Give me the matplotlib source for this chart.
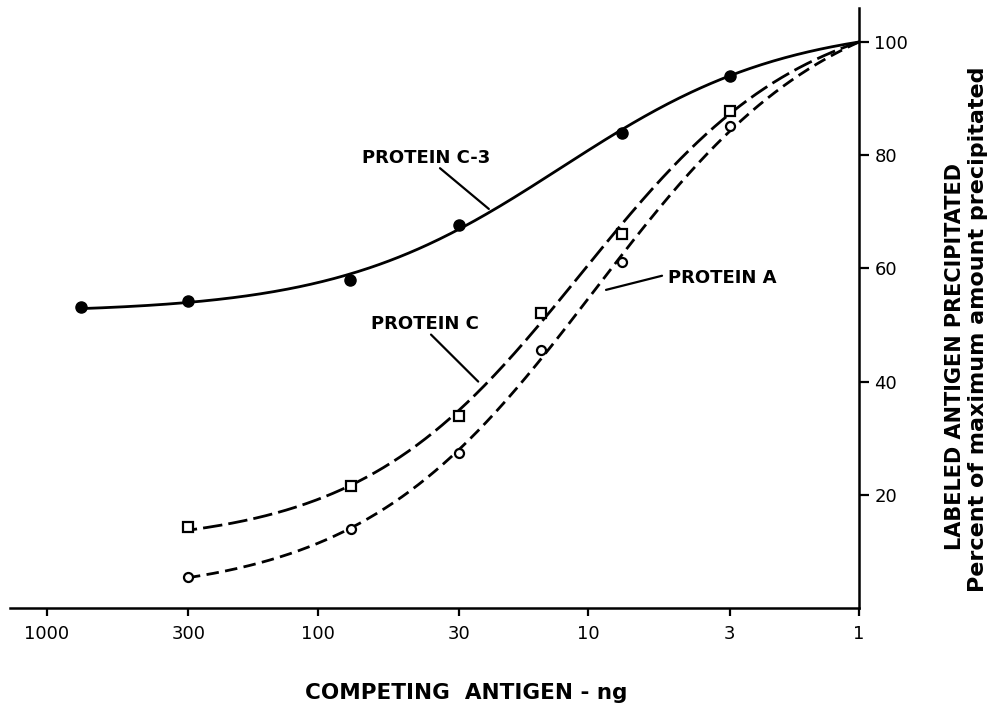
import numpy as np
import matplotlib
matplotlib.use('Agg')
import matplotlib.pyplot as plt

# ── Data ─────────────────────────────────────────────────────────────────────
# competing antigen (ng) and percent of max labeled antigen precipitated
c3_ng  = [750, 300, 76, 30, 7.5, 3]
c3_pct = [53.1, 54.3, 58.0, 67.7, 84.0, 94.0]

protc_ng  = [300, 75, 30, 15, 7.5, 3]
protc_pct = [14.3, 21.5, 33.9, 52.2, 66.1, 87.8]

prota_ng  = [300, 75, 30, 15, 7.5, 3]
prota_pct = [5.4, 14.0, 27.4, 45.5, 61.2, 85.1]

# all three curves are drawn to meet at 100% at 1 ng
end_ng, end_pct = 1, 100

x_ticks = [1000, 300, 100, 30, 10, 3, 1]
x_tick_labels = ['1000', '300', '100', '30', '10', '3', '1']
y_ticks = [20, 40, 60, 80, 100]


def smooth_curve(xs, ys, n=400):
    """Best-fit logistic in log10(x) (grid over centre/slope, linear LSQ for
    the plateaus) -- gives the smooth hand-drawn look of the original."""
    lx = np.log10(np.asarray(xs, float))
    y = np.asarray(ys, float)
    w = np.ones_like(y)
    w[-1] = 30          # force the curve through the 1 ng / 100 % point
    best = None
    for c in np.linspace(-1.0, 3.0, 161):
        for s in np.linspace(0.5, 8.0, 151):
            g = 1.0 / (1.0 + np.exp(s * (lx - c)))
            X = np.column_stack([np.ones_like(g), g])
            coef, *_ = np.linalg.lstsq(X * w[:, None], y * w, rcond=None)
            err = np.sum((w * (X @ coef - y)) ** 2)
            if best is None or err < best[0]:
                best = (err, c, s, coef)
    _, c, s, coef = best
    t = np.linspace(lx.min(), lx.max(), n)
    g = 1.0 / (1.0 + np.exp(s * (t - c)))
    return 10 ** t, coef[0] + coef[1] * g


plt.rcParams['font.family'] = ['DejaVu Sans']

fig = plt.figure(figsize=(9.89, 7.06), dpi=100)
ax = fig.add_axes([10 / 989, 98 / 706, 849 / 989, 600 / 706])

lw = 2.0
# Protein C-3 (solid, filled circles)
cx, cy = smooth_curve(c3_ng + [end_ng], c3_pct + [end_pct])
ax.plot(cx, cy, color='black', lw=lw, solid_capstyle='round')
ax.plot(c3_ng, c3_pct, 'o', color='black', ms=8)

# Protein C (long dashes, open squares)
cx, cy = smooth_curve(protc_ng + [end_ng], protc_pct + [end_pct])
ax.plot(cx, cy, color='black', lw=lw, dashes=(7, 2.2))
ax.plot(protc_ng, protc_pct, 's', mfc='white', mec='black', mew=1.6, ms=6.5)

# Protein A (shorter dashes, open circles)
cx, cy = smooth_curve(prota_ng + [end_ng], prota_pct + [end_pct])
ax.plot(cx, cy, color='black', lw=lw, dashes=(4.5, 2.3))
ax.plot(prota_ng, prota_pct, 'o', mfc='white', mec='black', mew=1.6, ms=6.5)

# ── Curve labels with leader lines ───────────────────────────────────────────
lab_kw = dict(fontsize=13, fontweight='bold', va='center')
line_kw = dict(arrowstyle='-', color='black', lw=1.6, shrinkA=0, shrinkB=0)
ax.text(68.5, 79.5, 'PROTEIN C-3', ha='left', **lab_kw)
ax.annotate('', xy=(23.3, 70.5), xytext=(35.3, 77.7), arrowprops=line_kw)
ax.text(25.3, 50.2, 'PROTEIN C', ha='right', **lab_kw)
ax.annotate('', xy=(25.5, 40.0), xytext=(38.1, 48.3), arrowprops=line_kw)
ax.text(5.08, 58.3, 'PROTEIN A', ha='left', **lab_kw)
ax.annotate('', xy=(8.6, 56.2), xytext=(5.34, 58.7), arrowprops=line_kw)

# ── Axes ─────────────────────────────────────────────────────────────────────
ax.set_xscale('log')
ax.set_xlim(1368, 1)
ax.set_ylim(0, 106)
ax.set_xticks(x_ticks)
ax.set_xticklabels(x_tick_labels)
ax.xaxis.set_minor_locator(matplotlib.ticker.NullLocator())
ax.set_yticks(y_ticks)
ax.yaxis.tick_right()
for side in ('left', 'top'):
    ax.spines[side].set_visible(False)
for side in ('bottom', 'right'):
    ax.spines[side].set_linewidth(1.8)
ax.tick_params(axis='x', direction='out', length=6, width=1.6, pad=6, labelsize=13)
ax.tick_params(axis='y', direction='out', length=7, width=1.6, pad=4, labelsize=13)

fig.text(466 / 989, 1 - 693 / 706, 'COMPETING  ANTIGEN - ng', ha='center', va='center',
         fontsize=15.5, fontweight='bold')
fig.text(955 / 989, 1 - 356 / 706, 'LABELED ANTIGEN PRECIPITATED', rotation=90,
         ha='center', va='center', fontsize=15, fontweight='bold')
fig.text(978 / 989, 1 - 329 / 706, 'Percent of maximum amount precipitated', rotation=90,
         ha='center', va='center', fontsize=16, fontweight='bold')

fig.savefig('out.png', dpi=100)
